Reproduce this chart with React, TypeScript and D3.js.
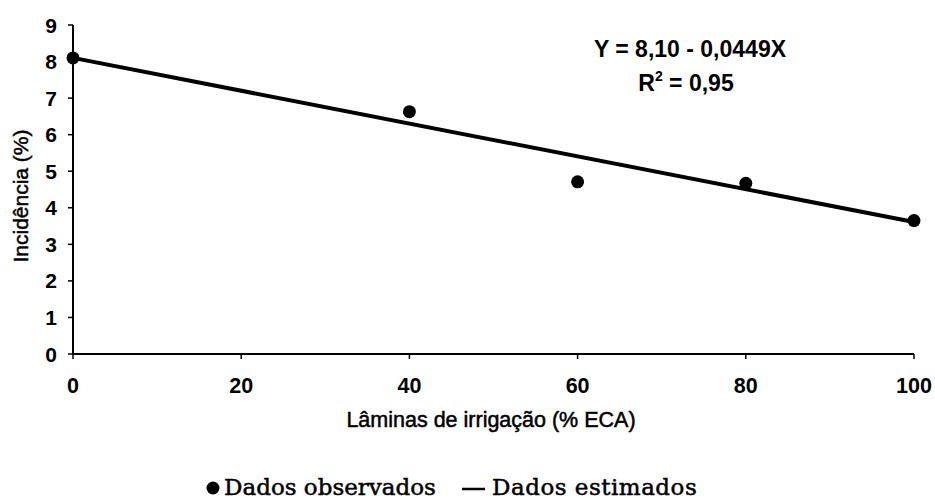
import React from "react";
import * as d3 from "d3";

// Observed incidence at each irrigation depth
const laminas = [0, 40, 60, 80, 100];
const incidencia = [8.1, 6.63, 4.71, 4.67, 3.65];

// Fitted linear model: Y = a + bX
const intercept = 8.1;
const slope = -0.0449;

const xTicks = [0, 20, 40, 60, 80, 100];
const yTicks = [0, 1, 2, 3, 4, 5, 6, 7, 8, 9];

const W = 935;
const H = 499;
const sans = "'Liberation Sans', Arial, Helvetica, sans-serif";
const serif = "'DejaVu Serif', 'Liberation Serif', serif";

export default function App() {
  const x = d3.scaleLinear().domain([0, 100]).range([73, 914]);
  const y = d3.scaleLinear().domain([0, 9]).range([354, 25]);

  const fit = d3
    .line<number>()
    .x((d) => x(d))
    .y((d) => y(intercept + slope * d));

  return (
    <svg
      width={W}
      height={H}
      style={{ position: "absolute", left: 0, top: 0, background: "#fff" }}
    >
      {/* axes */}
      <line x1={x(0)} x2={x(0)} y1={y(9)} y2={y(0)} stroke="#000" strokeWidth={2} />
      <line x1={x(0)} x2={x(100)} y1={y(0)} y2={y(0)} stroke="#000" strokeWidth={2} />

      {yTicks.map((t) => (
        <g key={"y" + t}>
          <line x1={x(0) - 5} x2={x(0)} y1={y(t)} y2={y(t)} stroke="#000" strokeWidth={1.5} />
          <text
            x={57}
            y={y(t)}
            dy="0.36em"
            textAnchor="end"
            fontFamily={sans}
            fontWeight="bold"
            fontSize={21}
          >
            {t}
          </text>
        </g>
      ))}

      {xTicks.map((t) => (
        <g key={"x" + t}>
          <line x1={x(t)} x2={x(t)} y1={y(0)} y2={y(0) + 5} stroke="#000" strokeWidth={1.5} />
          <text
            x={x(t)}
            y={393}
            textAnchor="middle"
            fontFamily={sans}
            fontWeight="bold"
            fontSize={21.5}
          >
            {t}
          </text>
        </g>
      ))}

      {/* axis titles */}
      <text
        x={491}
        y={427}
        textAnchor="middle"
        fontFamily={sans}
        fontSize={21.5}
        stroke="#000"
        strokeWidth={0.5}
      >
        Lâminas de irrigação (% ECA)
      </text>
      <text
        transform={`translate(28,196) rotate(-90)`}
        textAnchor="middle"
        fontFamily={sans}
        fontSize={21}
        stroke="#000"
        strokeWidth={0.5}
      >
        Incidência (%)
      </text>

      {/* fitted line */}
      <path d={fit([0, 100]) ?? ""} fill="none" stroke="#000" strokeWidth={4} />

      {/* observed points */}
      {laminas.map((l, i) => (
        <circle key={l} cx={x(l)} cy={y(incidencia[i])} r={6.5} fill="#000" />
      ))}

      {/* equation */}
      <text x={690} y={57} textAnchor="middle" fontFamily={sans} fontWeight="bold" fontSize={23}>
        Y = 8,10 - 0,0449X
      </text>
      <text x={686} y={91} textAnchor="middle" fontFamily={sans} fontWeight="bold" fontSize={23}>
        R<tspan dy={-10} fontSize={14}>2</tspan>
        <tspan dy={10}> = 0,95</tspan>
      </text>

      {/* legend */}
      <circle cx={213} cy={488} r={6.5} fill="#000" />
      <text x={224} y={495} fontFamily={serif} fontSize={23} stroke="#000" strokeWidth={0.5}>
        Dados observados
      </text>
      <line x1={462} x2={485} y1={489} y2={489} stroke="#000" strokeWidth={2.5} />
      <text
        x={492}
        y={495}
        fontFamily={serif}
        fontSize={23}
        stroke="#000"
        strokeWidth={0.5}
        letterSpacing={0.5}
      >
        Dados estimados
      </text>
    </svg>
  );
}
